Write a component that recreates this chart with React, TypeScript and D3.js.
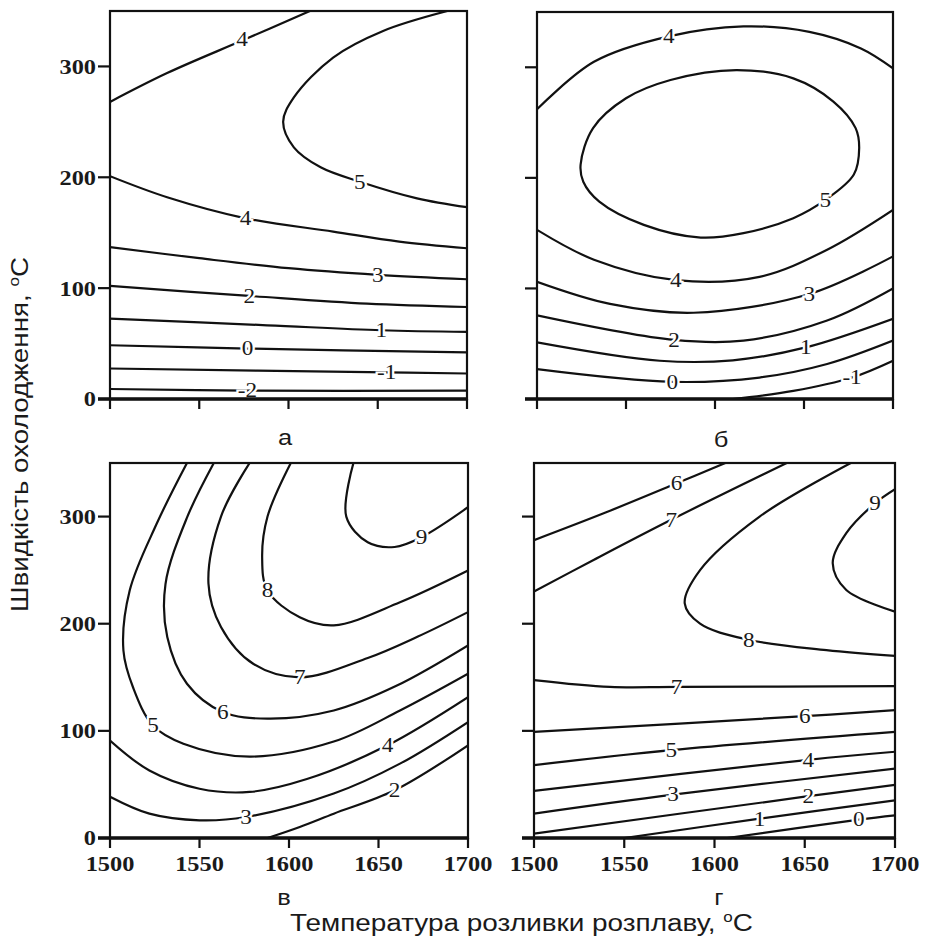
import * as d3 from "d3";
import type { ReactNode } from "react";

type Pt = [number, number];
interface Contour {
  level: string;
  pts: Pt[];
  at: Pt;
  closed?: boolean;
}

// axis values
const temps = [1500, 1550, 1600, 1650, 1700];
const rates = [0, 100, 200, 300];
const tempDomain: Pt = [1500, 1700];
const rateDomain: Pt = [0, 350];

// panel а
const contoursA: Contour[] = [
  { level: "4", pts: [[1500, 268], [1532, 294], [1575, 324], [1612, 350]], at: [1574, 324.5] },
  {
    level: "5",
    pts: [[1689, 350], [1653, 332], [1625, 308], [1603, 272], [1597, 250], [1603, 227], [1618, 209], [1640, 196], [1672, 181], [1700, 173]],
    at: [1640, 196],
  },
  { level: "4", pts: [[1500, 201], [1532, 182], [1576, 163], [1625, 151], [1662, 142], [1700, 136]], at: [1576, 163] },
  { level: "3", pts: [[1500, 137], [1550, 127], [1600, 118], [1650, 112], [1700, 108]], at: [1650, 112] },
  { level: "2", pts: [[1500, 102], [1578, 93], [1644, 86], [1700, 83]], at: [1578, 93] },
  { level: "1", pts: [[1500, 72.5], [1588, 66.5], [1652, 62], [1700, 60.5]], at: [1652, 62] },
  { level: "0", pts: [[1500, 48.5], [1577, 45.5], [1700, 42]], at: [1577, 45.5] },
  { level: "-1", pts: [[1500, 27.5], [1655, 24], [1700, 23]], at: [1655, 24] },
  { level: "-2", pts: [[1500, 9], [1577, 7.5], [1700, 7.5]], at: [1577, 7.5] },
];

// panel б
const contoursB: Contour[] = [
  { level: "4", pts: [[1500, 262], [1532, 305], [1574, 328], [1616, 337], [1653, 332], [1682, 317], [1700, 299]], at: [1574, 328] },
  {
    level: "5",
    closed: true,
    pts: [
      [1524.5, 212], [1531.5, 245], [1550, 272], [1575, 288.5], [1612, 297.5], [1644, 290], [1666.5, 269], [1679, 245],
      [1681, 227], [1678, 203], [1662, 180], [1644, 163.5], [1616, 150], [1592, 146], [1560, 157.5], [1535, 178.5], [1526, 196.5],
    ],
    at: [1662, 180],
  },
  { level: "4", pts: [[1500, 153], [1532, 126], [1578, 107.5], [1625, 110.5], [1663, 135], [1700, 171]], at: [1578, 107.5] },
  { level: "3", pts: [[1500, 106], [1541, 86], [1588, 78], [1653, 95], [1700, 129]], at: [1653, 95] },
  { level: "2", pts: [[1500, 75.6], [1577, 53.4], [1616, 52.8], [1663, 71], [1700, 100]], at: [1577, 53.4] },
  { level: "1", pts: [[1500, 51.3], [1569, 34.6], [1610, 35], [1651, 46.7], [1700, 72.6]], at: [1651, 46.7] },
  { level: "0", pts: [[1500, 27], [1576, 15.5], [1625, 19.4], [1663, 31.6], [1700, 52.8]], at: [1576, 15.5] },
  { level: "-1", pts: [[1610, 0], [1644, 7.3], [1677, 19.4], [1700, 34.6]], at: [1677, 19.4] },
];

// panel в
const contoursV: Contour[] = [
  { level: "2", pts: [[1588, 0], [1606, 10.3], [1625, 22.7], [1659, 44.5], [1700, 86.5]], at: [1659, 44.5] },
  { level: "3", pts: [[1500, 38.5], [1522, 22.7], [1550, 16.5], [1576, 19.6], [1625, 41.5], [1662, 69.4], [1700, 108.2]], at: [1576, 19.6] },
  { level: "4", pts: [[1500, 91], [1522, 63], [1550, 46], [1578, 43], [1610, 55], [1655, 86.5], [1700, 131.5]], at: [1655, 86.5] },
  {
    level: "5",
    pts: [[1543, 350], [1526, 293], [1511, 231], [1507.5, 175], [1513, 140], [1524, 105], [1541, 88], [1578, 76], [1625, 90], [1662, 119], [1700, 153.3]],
    at: [1524, 105],
  },
  {
    level: "6",
    pts: [[1558, 350], [1543, 299], [1531, 237], [1532, 187.5], [1543, 144], [1563, 117.6], [1588, 111.4], [1625, 119], [1660, 142], [1700, 179.7]],
    at: [1563, 117.6],
  },
  {
    level: "7",
    pts: [[1578, 350], [1562, 300], [1555, 237.5], [1562, 197], [1580, 162.6], [1606, 150], [1644, 168], [1672, 188], [1700, 210.8]],
    at: [1606, 150],
  },
  { level: "8", pts: [[1601, 350], [1588, 300], [1585, 262], [1588, 231], [1606, 206], [1625, 198.5], [1662, 220], [1700, 249.6]], at: [1588, 231] },
  { level: "9", pts: [[1636, 350], [1632, 300], [1644, 276], [1659, 271.6], [1674, 280.7], [1700, 308.7]], at: [1674, 280.7] },
];

// panel г
const contoursG: Contour[] = [
  { level: "6", pts: [[1500, 278], [1540, 304], [1579, 331], [1606, 350]], at: [1579, 331] },
  { level: "7", pts: [[1500, 230], [1533, 259.5], [1576, 297], [1640, 350]], at: [1576, 297] },
  { level: "8", pts: [[1675.5, 350], [1625, 300], [1592, 250], [1583.5, 219], [1592, 200], [1619, 185], [1662, 175.4], [1700, 170]], at: [1619, 185] },
  { level: "9", pts: [[1700, 325.6], [1689, 312.5], [1673, 284.5], [1665.5, 256.4], [1673, 231.5], [1700, 211.2]], at: [1689, 312.5] },
  { level: "7", pts: [[1500, 147.4], [1542, 141], [1579, 141], [1700, 141.8]], at: [1579, 141] },
  { level: "6", pts: [[1500, 99], [1650, 113.7], [1700, 119.3]], at: [1650, 113.7] },
  { level: "5", pts: [[1500, 68], [1576, 82], [1700, 99]], at: [1576, 82] },
  { level: "4", pts: [[1500, 44], [1652, 73], [1700, 80.5]], at: [1652, 73] },
  { level: "3", pts: [[1500, 22.8], [1577, 40.5], [1700, 64.8]], at: [1577, 40.5] },
  { level: "2", pts: [[1500, 4], [1652, 39], [1700, 49.5]], at: [1652, 39] },
  { level: "1", pts: [[1550, 0], [1625, 18], [1700, 35.2]], at: [1625, 18] },
  { level: "0", pts: [[1607, 0], [1680, 17.2], [1700, 21.2]], at: [1680, 17.2] },
];

const serif = "'Liberation Serif', 'Times New Roman', serif";
const sans = "'Liberation Sans', Arial, sans-serif";
const SX = 1.16; // the scan is stretched sideways a little

const panels = [
  { id: "a", data: contoursA, x0: 110, x1: 467, top: 11, bottom: 399, yLabels: true, xLabels: false, letter: "а", lx: 285, ly: 445 },
  { id: "b", data: contoursB, x0: 537, x1: 893, top: 12, bottom: 399, yLabels: false, xLabels: false, letter: "б", lx: 721, ly: 447 },
  { id: "v", data: contoursV, x0: 110, x1: 468, top: 463, bottom: 838, yLabels: true, xLabels: true, letter: "в", lx: 284, ly: 905 },
  { id: "g", data: contoursG, x0: 534, x1: 895, top: 463, bottom: 838, yLabels: false, xLabels: true, letter: "г", lx: 719, ly: 905 },
];

function SText(props: {
  x: number;
  y: number;
  anchor?: string;
  size: number;
  family: string;
  weight?: string;
  dy?: string;
  halo?: boolean;
  children: ReactNode;
}) {
  return (
    <text
      transform={`translate(${props.x},${props.y}) scale(${SX},1)`}
      dy={props.dy}
      textAnchor={props.anchor || "middle"}
      fontFamily={props.family}
      fontWeight={props.weight || "normal"}
      fontSize={props.size}
      fill="#1a1a1a"
      stroke={props.halo ? "#fff" : "none"}
      strokeWidth={props.halo ? 4 : 0}
      paintOrder="stroke"
    >
      {props.children}
    </text>
  );
}

function Panel({ p }: { p: (typeof panels)[number] }) {
  const x = d3.scaleLinear().domain(tempDomain).range([p.x0, p.x1]);
  const y = d3.scaleLinear().domain(rateDomain).range([p.bottom, p.top]);
  const open = d3
    .line<Pt>()
    .x((d) => x(d[0]))
    .y((d) => y(d[1]))
    .curve(d3.curveCatmullRom.alpha(0.5));
  const closed = d3
    .line<Pt>()
    .x((d) => x(d[0]))
    .y((d) => y(d[1]))
    .curve(d3.curveCatmullRomClosed.alpha(0.5));

  return (
    <g>
      <defs>
        <clipPath id={`clip-${p.id}`}>
          <rect x={p.x0} y={p.top} width={p.x1 - p.x0} height={p.bottom - p.top} />
        </clipPath>
      </defs>
      <g clipPath={`url(#clip-${p.id})`}>
        {p.data.map((c, i) => (
          <path key={i} d={(c.closed ? closed : open)(c.pts) || ""} fill="none" stroke="#111" strokeWidth={2.2} />
        ))}
        {p.data.map((c, i) => (
          <SText key={"l" + i} x={x(c.at[0])} y={y(c.at[1])} dy="0.34em" size={20} family={serif} halo>
            {c.level}
          </SText>
        ))}
      </g>
      {/* frame */}
      <rect x={p.x0} y={p.top} width={p.x1 - p.x0} height={p.bottom - p.top} fill="none" stroke="#111" strokeWidth={2.2} />
      <line x1={p.x0 - 12} x2={p.x1 + 1} y1={p.bottom} y2={p.bottom} stroke="#111" strokeWidth={3.4} />
      {/* y ticks */}
      {rates.map((r) => (
        <g key={r}>
          <line x1={p.x0 - 12} x2={p.x0} y1={y(r)} y2={y(r)} stroke="#111" strokeWidth={2.2} />
          {p.yLabels && (
            <SText x={p.x0 - 14} y={y(r)} dy="0.35em" anchor="end" size={21} family={serif} weight="bold">
              {r}
            </SText>
          )}
        </g>
      ))}
      {/* x ticks */}
      {temps.map((t) => (
        <g key={t}>
          <line x1={x(t)} x2={x(t)} y1={p.bottom} y2={p.bottom + 10} stroke="#111" strokeWidth={2.2} />
          {p.xLabels && (
            <SText x={x(t)} y={p.bottom + 33} size={21} family={serif} weight="bold">
              {t}
            </SText>
          )}
        </g>
      ))}
      <SText x={p.lx} y={p.ly} size={22} family={sans}>
        {p.letter}
      </SText>
    </g>
  );
}

export default function App() {
  return (
    <svg width={925} height={946} style={{ position: "absolute", left: 0, top: 0, background: "#fff" }}>
      <rect width={925} height={946} fill="#fff" />
      {panels.map((p) => (
        <Panel key={p.id} p={p} />
      ))}
      <text
        transform="translate(28,434.5) rotate(-90)"
        textAnchor="middle"
        fontFamily={sans}
        fontSize={23}
        fill="#1a1a1a"
        textLength={355}
        lengthAdjust="spacingAndGlyphs"
      >
        Швидкість охолодження,{" "}
        <tspan fontSize={14} dy={-9}>
          o
        </tspan>
        <tspan dy={9}>С</tspan>
      </text>
      <text
        x={521.5}
        y={931}
        textAnchor="middle"
        fontFamily={sans}
        fontSize={23}
        fill="#1a1a1a"
        textLength={463}
        lengthAdjust="spacingAndGlyphs"
      >
        Температура розливки розплаву,{" "}
        <tspan fontSize={14} dy={-9}>
          o
        </tspan>
        <tspan dy={9}>С</tspan>
      </text>
    </svg>
  );
}
